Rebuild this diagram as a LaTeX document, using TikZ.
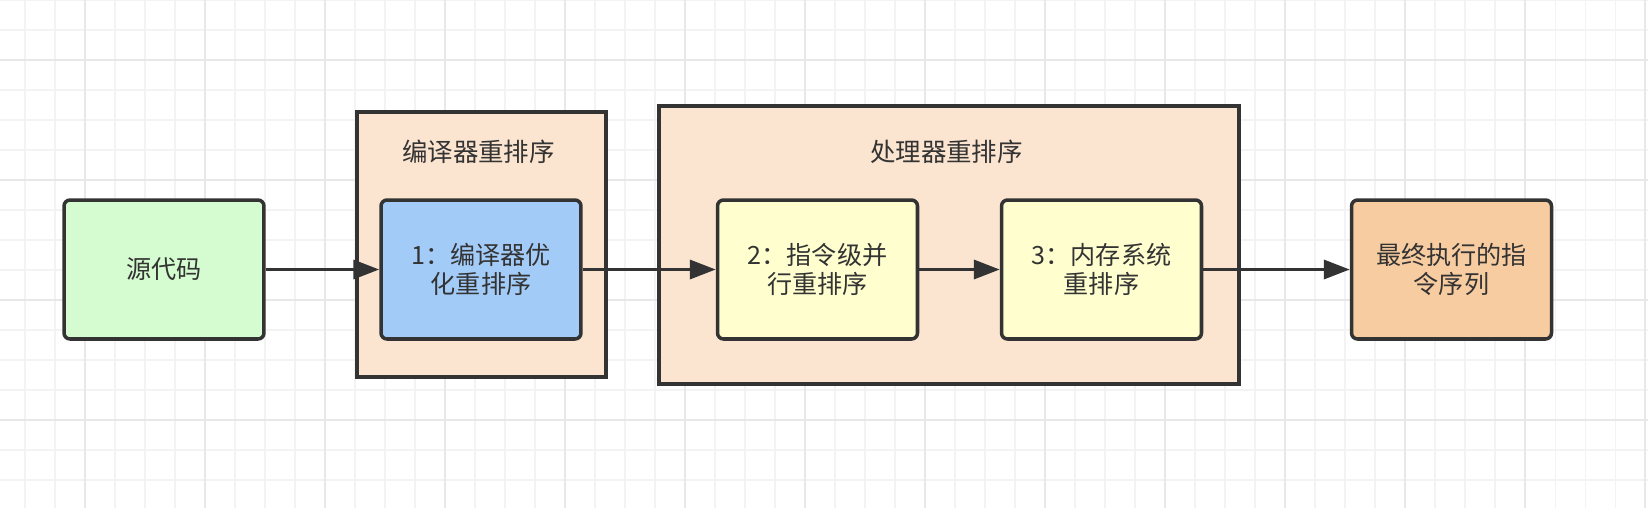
\documentclass[tikz,border=0pt]{standalone}
\usepackage{fontspec}
\setmainfont{Noto Sans CJK SC}
\usepackage{xcolor}
\usepackage{tikz}
\usetikzlibrary{arrows.meta}
\definecolor{ink}{HTML}{333333}
\definecolor{gridmin}{HTML}{F3F3F3}
\definecolor{gridmaj}{HTML}{E8E8E8}
\definecolor{srcfill}{HTML}{D5FBD0}
\definecolor{cmpfill}{HTML}{A3CBF8}
\definecolor{cpufill}{HTML}{FEFECF}
\definecolor{grpfill}{HTML}{FBE5D0}
\definecolor{finfill}{HTML}{F7CCA0}
\tikzset{
  stage/.style={draw=ink, line width=2pt, rounded corners=0.12cm, text=ink,
    minimum width=4cm, minimum height=2.78cm, align=center, font=\fontsize{14.3}{16.8}\selectfont},
  grp/.style={draw=ink, fill=grpfill, line width=2pt, text=ink},
  ttl/.style={text=ink, font=\fontsize{14.5}{17}\selectfont},
  flow/.style={draw=ink, line width=2pt, -{Triangle[length=0.52cm, width=0.38cm]}},
}
\begin{document}
\begin{tikzpicture}[x=0.02cm, y=-0.02cm]
  \useasboundingbox (0,0) rectangle (1648,508);

  % background grid
  \foreach \gx in {25,55,...,1648} \draw[gridmin, line width=0.6pt] (\gx,0) -- (\gx,508);
  \foreach \gy in {0,30,...,508} \draw[gridmin, line width=0.6pt] (0,\gy) -- (1648,\gy);
  \foreach \gx in {85,205,...,1648} \draw[gridmaj, line width=0.7pt] (\gx,0) -- (\gx,508);
  \foreach \gy in {60,180,...,508} \draw[gridmaj, line width=0.7pt] (0,\gy) -- (1648,\gy);

  % groups
  \node[grp, minimum width=4.98cm, minimum height=5.3cm] (cmpgrp) at (481.5,244.5) {};
  \node[grp, minimum width=11.6cm, minimum height=5.56cm] (cpugrp) at (949,245) {};
  \node[ttl] (cmpttl) at (478.5,152) {编译器重排序};
  \node[ttl] (cputtl) at (946.5,152) {处理器重排序};

  % stages
  \node[stage, fill=srcfill] (src) at (164,269.5) {源代码};
  \node[stage, fill=cmpfill] (cmp) at (481,269.5) {1：编译器优\\化重排序};
  \node[stage, fill=cpufill] (ilp) at (817.5,269.5) {2：指令级并\\行重排序};
  \node[stage, fill=cpufill] (mem) at (1101.5,269.5) {3：内存系统\\重排序};
  \node[stage, fill=finfill] (fin) at (1451.5,269.5) {最终执行的指\\令序列};

  \draw[flow] (src) -- (cmp);
  \draw[flow] (cmp) -- (ilp);
  \draw[flow] (ilp) -- (mem);
  \draw[flow] (mem) -- (fin);
\end{tikzpicture}
\end{document}
